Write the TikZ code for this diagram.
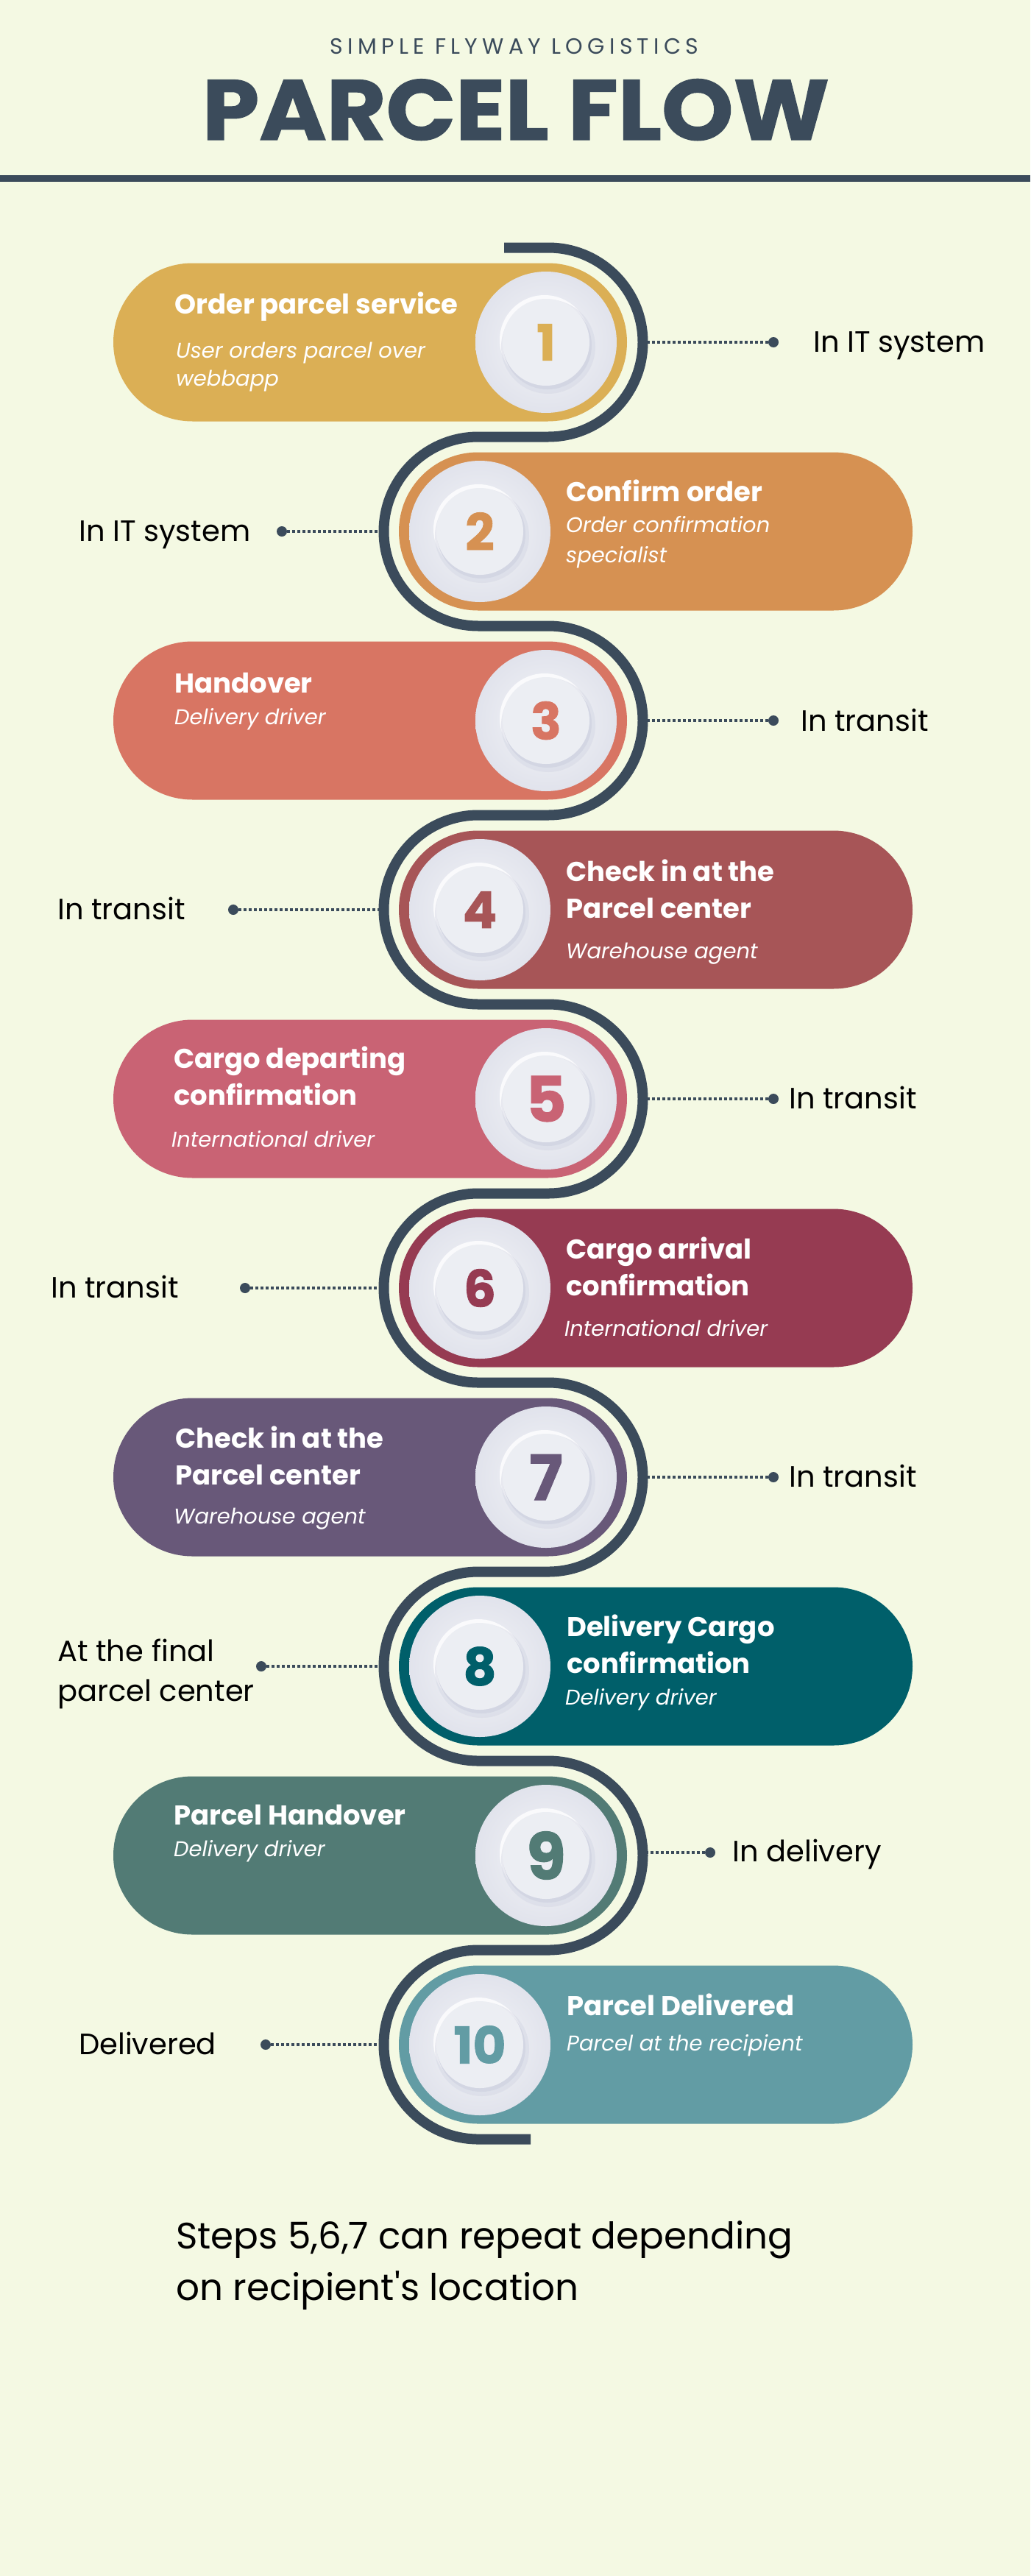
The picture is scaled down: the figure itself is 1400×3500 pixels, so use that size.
\documentclass[tikz,border=0pt]{standalone}
\usepackage{fontspec}
\setmainfont{Poppins}
\newfontfamily\popspaced{Poppins}[LetterSpace=21]
\newfontfamily\popheavy{Poppins}[BoldFeatures={FakeBold=1.2}]
\usetikzlibrary{shapes.misc}
\definecolor{bg}{HTML}{F4F9E3}
\definecolor{ink}{HTML}{3B4B5B}
\definecolor{sA}{HTML}{DBAF55}
\definecolor{sB}{HTML}{D69152}
\definecolor{sC}{HTML}{D87563}
\definecolor{sD}{HTML}{A75557}
\definecolor{sE}{HTML}{C96374}
\definecolor{sF}{HTML}{963B52}
\definecolor{sG}{HTML}{685879}
\definecolor{sH}{HTML}{005F6A}
\definecolor{sI}{HTML}{527B75}
\definecolor{sJ}{HTML}{629CA4}
\definecolor{discA}{HTML}{ECEEF3}
\definecolor{discEdge}{HTML}{E1E3EC}
\definecolor{discShadow}{HTML}{D3D6E3}
\newcommand\pstep[6]{%
  \node[pill, fill=#2] (p#1) at (#3,#5) {};
  \node[disc] (c#1) at (#4,#5) {};
  \fill[white, opacity=.8] ([shift={(-2,-3)}]c#1.center) circle[radius=61];
  \fill[discShadow, opacity=.45] ([shift={(3,6)}]c#1.center) circle[radius=64];
  \fill[discShadow] ([shift={(2,4)}]c#1.center) circle[radius=60];
  \fill[discA] (c#1.center) circle[radius=59];
  \node[num, text=#2, font=\popheavy\fontsize{#6}{#6}\selectfont\bfseries] (n#1) at (c#1.center) {#1};
}
\begin{document}
\begin{tikzpicture}[x=1pt,y=-1pt,
  pill/.style={rounded rectangle, minimum width=698pt, minimum height=215pt, inner sep=0pt, draw=none},
  disc/.style={circle, minimum size=192pt, inner sep=0pt, inner color=discA!60!white, outer color=discEdge},
  num/.style={inner sep=0pt},
  stitle/.style={anchor=base west, inner sep=0pt, text=white, align=left, font=\fontsize{37}{50}\selectfont\bfseries},
  ssub/.style={anchor=base west, inner sep=0pt, text=white, align=left, font=\fontsize{29}{39}\selectfont\itshape},
  lab/.style={anchor=base west, inner sep=0pt, text=black, align=left, font=\fontsize{40}{54}\selectfont},
  dotn/.style={circle, fill=ink, minimum size=14pt, inner sep=0pt},
  dotline/.style={draw=ink, line width=4pt, dash pattern=on 3.5pt off 3.5pt},
  track/.style={draw=ink, line width=14pt, line cap=butt}]
\fill[bg] (0,0) rectangle (1400,3500);
\useasboundingbox (0,0) rectangle (1400,3500);

% header
\node[anchor=base, inner sep=0pt, text=ink, font=\popspaced\fontsize{30}{30}\selectfont] (brand) at (699,74) {SIMPLE FLYWAY LOGISTICS};
\node[anchor=base, inner sep=0pt, text=ink, font=\popheavy\fontsize{116}{116}\selectfont\bfseries] (head) at (701,190) {\scalebox{1.07}[1]{PARCEL FLOW}};
\fill[ink] (0,238) rectangle (1400,247);

% dotted connectors (under the track)
\foreach \i/\dx/\tx/\yy in {1/1051/873.5/465, 2/383/521.5/722, 3/1051/873.5/979, 4/317/521.5/1236, 5/1051/873.5/1493, 6/333/521.5/1750, 7/1051/873.5/2007, 8/355/521.5/2264, 9/965/873.5/2517, 10/361/521.5/2778}{
  \coordinate (t\i) at (\tx,\yy);
  \node[dotn] (d\i) at (\dx,\yy) {};
  \draw[dotline] (d\i) -- (t\i);
}

% steps
\pstep{1}{sA}{503}{742}{465}{68}
\pstep{2}{sB}{891}{652}{722}{69}
\pstep{3}{sC}{503}{742}{979}{69}
\pstep{4}{sD}{891}{652}{1236}{69}
\pstep{5}{sE}{503}{742}{1493}{85}
\pstep{6}{sF}{891}{652}{1750}{69}
\pstep{7}{sG}{503}{742}{2007}{85}
\pstep{8}{sH}{891}{652}{2264}{70}
\pstep{9}{sI}{503}{742}{2521}{87}
\pstep{10}{sJ}{891}{652}{2778}{69}

% serpentine track
\draw[track] (685,336.5) -- (745,336.5)
  arc[start angle=-90,end angle=90,radius=128.5] -- (650,593.5)
  arc[start angle=-90,end angle=-270,radius=128.5] -- (745,850.5)
  arc[start angle=-90,end angle=90,radius=128.5] -- (650,1107.5)
  arc[start angle=-90,end angle=-270,radius=128.5] -- (745,1364.5)
  arc[start angle=-90,end angle=90,radius=128.5] -- (650,1621.5)
  arc[start angle=-90,end angle=-270,radius=128.5] -- (745,1878.5)
  arc[start angle=-90,end angle=90,radius=128.5] -- (650,2135.5)
  arc[start angle=-90,end angle=-270,radius=128.5] -- (745,2392.5)
  arc[start angle=-90,end angle=90,radius=128.5] -- (650,2649.5)
  arc[start angle=-90,end angle=-270,radius=128.5] -- (721,2906.5);

% step texts (base anchor = baseline of the last line)
\node[stitle] (h1) at (237,426) {Order parcel service};
\node[ssub, font=\fontsize{29}{38}\selectfont\itshape] (s1) at (239,524) {User orders parcel over\\webbapp};
\node[stitle] (h2) at (769,681) {Confirm order};
\node[ssub, font=\fontsize{29}{41}\selectfont\itshape] (s2) at (769,764) {Order confirmation\\specialist};
\node[stitle] (h3) at (237,941) {Handover};
\node[ssub] (s3) at (237,984) {Delivery driver};
\node[stitle] (h4) at (769,1247) {Check in at the\\Parcel center};
\node[ssub] (s4) at (769,1302) {Warehouse agent};
\node[stitle] (h5) at (236,1501) {Cargo departing\\confirmation};
\node[ssub] (s5) at (233,1558) {International driver};
\node[stitle] (h6) at (769,1760) {Cargo arrival\\confirmation};
\node[ssub] (s6) at (767,1815) {International driver};
\node[stitle] (h7) at (238,2017) {Check in at the\\Parcel center};
\node[ssub] (s7) at (236,2070) {Warehouse agent};
\node[stitle] (h8) at (770,2273) {Delivery Cargo\\confirmation};
\node[ssub] (s8) at (768,2316) {Delivery driver};
\node[stitle] (h9) at (236,2479) {Parcel Handover};
\node[ssub] (s9) at (236,2522) {Delivery driver};
\node[stitle] (h10) at (770,2738) {Parcel Delivered};
\node[ssub] (s10) at (770,2786) {Parcel at the recipient};

% side labels
\node[lab] (l1) at (1105,478) {In IT system};
\node[lab] (l2) at (107,735) {In IT system};
\node[lab] (l3) at (1088,993) {In transit};
\node[lab] (l4) at (78,1249) {In transit};
\node[lab] (l5) at (1072,1506) {In transit};
\node[lab] (l6) at (69,1763) {In transit};
\node[lab] (l7) at (1072,2020) {In transit};
\node[lab] (l8) at (78,2311) {At the final\\parcel center};
\node[lab] (l9) at (995,2529) {In delivery};
\node[lab] (l10) at (107,2791) {Delivered};

% footnote
\node[anchor=base west, inner sep=0pt, text=black, align=left, font=\fontsize{50}{70}\selectfont] (note) at (239,3125) {Steps 5,6,7 can repeat depending\\on recipient\textquotesingle s location};
\end{tikzpicture}
\end{document}
